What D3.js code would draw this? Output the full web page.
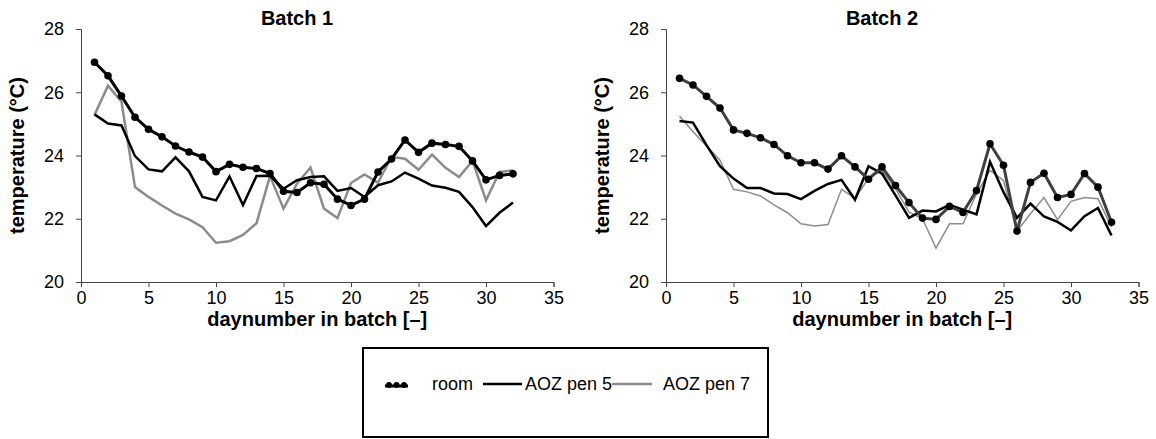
<!DOCTYPE html>
<html>
<head>
<meta charset="UTF-8">
<title>temperature per batch</title>
<script src="https://d3js.org/d3.v7.min.js"></script>
<style>
  body { margin: 0; background: #fff; }
  svg { display: block; font-family: Arial, "Liberation Sans", sans-serif; }
</style>
</head>
<body>
<div id="chart"></div>
<script>
// values, one per day (day 1, 2, ...)
const b1Room = [26.95, 26.52, 25.88, 25.21, 24.83, 24.59, 24.30, 24.11, 23.95, 23.49, 23.72, 23.63, 23.59, 23.43, 22.87, 22.83,
                23.14, 23.09, 22.62, 22.42, 22.62, 23.48, 23.89, 24.49, 24.10, 24.39, 24.35, 24.29, 23.83, 23.23, 23.37, 23.42];
const b1Pen5 = [25.30, 25.01, 24.95, 23.98, 23.56, 23.50, 23.94, 23.50, 22.69, 22.58, 23.34, 22.43, 23.35, 23.36, 22.95, 23.22,
                23.32, 23.34, 22.88, 22.97, 22.69, 23.06, 23.18, 23.46, 23.27, 23.05, 22.98, 22.85, 22.37, 21.77, 22.19, 22.51];
const b1Pen7 = [25.28, 26.21, 25.70, 23.00, 22.69, 22.42, 22.16, 21.98, 21.73, 21.24, 21.29, 21.49, 21.86, 23.35, 22.32, 23.11,
                23.62, 22.32, 22.02, 23.13, 23.40, 23.14, 23.96, 23.90, 23.55, 24.03, 23.61, 23.32, 23.83, 22.58, 23.48, 23.53];

const b2Room = [26.44, 26.23, 25.87, 25.50, 24.81, 24.70, 24.56, 24.35, 23.99, 23.77, 23.77, 23.57, 23.99, 23.64, 23.25, 23.64,
                23.05, 22.51, 22.02, 21.98, 22.39, 22.20, 22.89, 24.37, 23.69, 21.61, 23.15, 23.44, 22.67, 22.77, 23.43, 23.00, 21.89];
const b2Pen5 = [25.09, 25.04, 24.33, 23.66, 23.27, 22.97, 22.97, 22.80, 22.78, 22.62, 22.88, 23.10, 23.23, 22.60, 23.66, 23.43,
                22.74, 22.03, 22.26, 22.23, 22.44, 22.29, 22.14, 23.80, 22.84, 22.03, 22.48, 22.07, 21.90, 21.63, 22.08, 22.34, 21.47];
const b2Pen7 = [25.25, 24.75, 24.30, 23.85, 22.93, 22.85, 22.72, 22.44, 22.19, 21.84, 21.77, 21.82, 22.93, 22.65, 23.27, 23.53,
                22.95, 22.21, 22.00, 21.07, 21.84, 21.84, 22.79, 23.53, 23.21, 21.61, 22.16, 22.67, 21.97, 22.55, 22.67, 22.63, 21.73];

const xTicks = [0, 5, 10, 15, 20, 25, 30, 35];
const yTicks = [20, 22, 24, 26, 28];
const titles = ["Batch 1", "Batch 2"];
const legendNames = ["room", "AOZ pen 5", "AOZ pen 7"];

const W = 1156, H = 439;
const plotW = 472.5, plotH = 253, plotTop = 29;

const svg = d3.select("#chart").append("svg")
    .attr("width", W).attr("height", H);

const panels = [
    { left: 81, title: titles[0], room: b1Room, pen5: b1Pen5, pen7: b1Pen7,
      roomColor: "#000", pen7Color: "#8c8c8c", pen7Width: 2.5 },
    { left: 666, title: titles[1], room: b2Room, pen5: b2Pen5, pen7: b2Pen7,
      roomColor: "#404040", pen7Color: "#8c8c8c", pen7Width: 1.5 }
];

const x = d3.scaleLinear().domain([0, 35]).range([0, plotW]);
const y = d3.scaleLinear().domain([20, 28]).range([plotH, 0]);
const line = d3.line().x((d, i) => x(i + 1)).y(d => y(d));

panels.forEach(p => {
    const g = svg.append("g").attr("transform", `translate(${p.left},${plotTop})`);

    // axes
    const ax = g.append("g").attr("transform", `translate(0,${plotH})`)
        .call(d3.axisBottom(x).tickValues(xTicks).tickSize(5).tickPadding(4));
    const ay = g.append("g")
        .call(d3.axisLeft(y).tickValues(yTicks).tickSize(5).tickPadding(12));
    [ax, ay].forEach(a => {
        a.select(".domain").attr("stroke", "#444").attr("stroke-width", 1);
        a.selectAll(".tick line").attr("stroke", "#444");
        a.selectAll(".tick text").attr("font-size", 18).attr("fill", "#000")
            .attr("font-family", "Arial, 'Liberation Sans', sans-serif");
    });

    // series
    g.append("path").datum(p.pen7).attr("d", line)
        .attr("fill", "none").attr("stroke", p.pen7Color).attr("stroke-width", p.pen7Width)
        .attr("stroke-linejoin", "miter");
    g.append("path").datum(p.pen5).attr("d", line)
        .attr("fill", "none").attr("stroke", "#000").attr("stroke-width", 2.5);
    g.append("path").datum(p.room).attr("d", line)
        .attr("fill", "none").attr("stroke", p.roomColor).attr("stroke-width", 3);
    g.selectAll("circle.room").data(p.room).enter().append("circle")
        .attr("class", "room")
        .attr("cx", (d, i) => x(i + 1)).attr("cy", d => y(d))
        .attr("r", 3.8).attr("fill", "#000");

    // titles
    g.append("text").attr("x", 216).attr("y", -4)
        .attr("text-anchor", "middle").attr("font-size", 20).attr("font-weight", "bold")
        .text(p.title);
    g.append("text").attr("x", plotW / 2).attr("y", plotH + 44)
        .attr("text-anchor", "middle").attr("font-size", 20).attr("font-weight", "bold")
        .text("daynumber in batch [–]");
    g.append("text")
        .attr("transform", `translate(-57,${plotH / 2}) rotate(-90)`)
        .attr("text-anchor", "middle").attr("font-size", 20).attr("font-weight", "bold")
        .text("temperature (°C)");
});

// legend
const lg = svg.append("g");
lg.append("rect").attr("x", 363).attr("y", 348).attr("width", 405).attr("height", 89)
    .attr("fill", "#fff").attr("stroke", "#000").attr("stroke-width", 2);
const ly = 384;
lg.append("line").attr("x1", 385).attr("x2", 408).attr("y1", ly + 2).attr("y2", ly + 2)
    .attr("stroke", "#000").attr("stroke-width", 3);
[389, 396.5, 404].forEach(cx => lg.append("circle").attr("cx", cx).attr("cy", ly + 1).attr("r", 3).attr("fill", "#000"));
lg.append("text").attr("x", 432).attr("y", ly + 6).attr("font-size", 18).text(legendNames[0]);
lg.append("line").attr("x1", 483).attr("x2", 522).attr("y1", ly).attr("y2", ly)
    .attr("stroke", "#000").attr("stroke-width", 2.5);
lg.append("text").attr("x", 525).attr("y", ly + 6).attr("font-size", 18).text(legendNames[1]);
lg.append("line").attr("x1", 612).attr("x2", 652).attr("y1", ly).attr("y2", ly)
    .attr("stroke", "#8c8c8c").attr("stroke-width", 2.5);
lg.append("text").attr("x", 663).attr("y", ly + 6).attr("font-size", 18).text(legendNames[2]);
</script>
</body>
</html>
